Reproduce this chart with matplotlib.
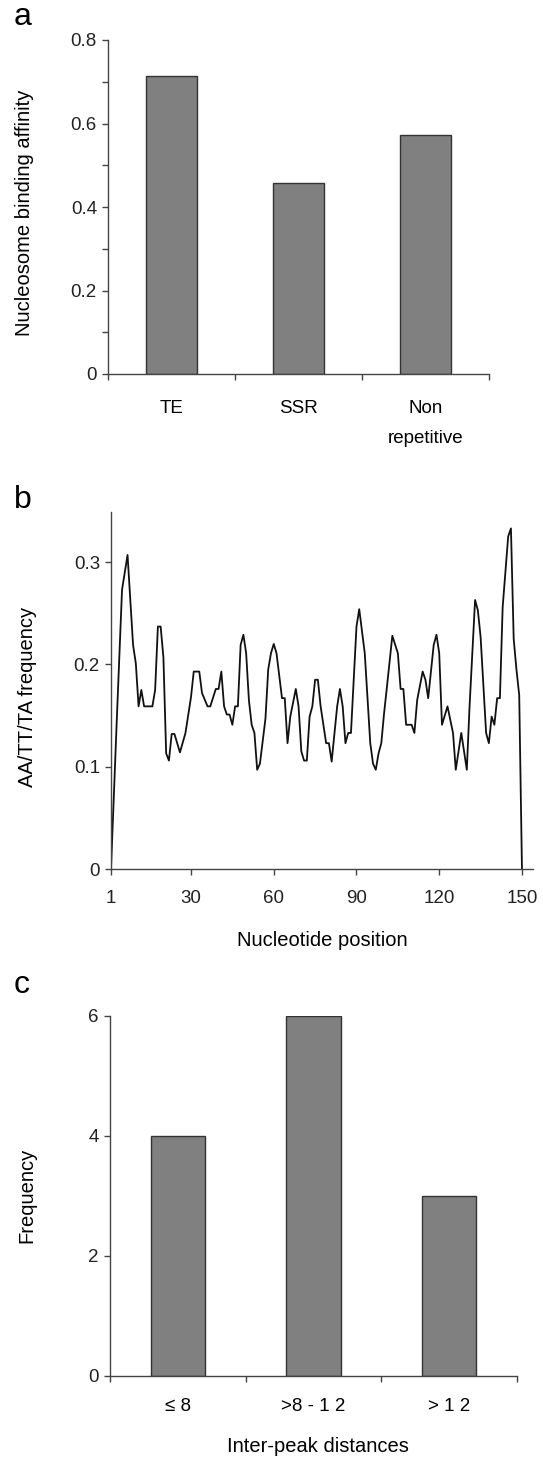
import numpy as np
import matplotlib
matplotlib.use('Agg')
from matplotlib import pyplot as plt

plt.rcParams['font.family'] = ['Liberation Sans', 'DejaVu Sans']
plt.rcParams['font.size'] = 13.5

# Panel a data
repeat_types = ['TE', 'SSR', 'Non\nrepetitive']
binding_affinity = [0.714, 0.457, 0.573]

# Panel b data (vertices)
position = [1, 3, 5, 7, 9, 10, 11, 12, 13, 16, 17, 18, 19, 20, 21, 22, 23, 24, 26, 28,
            30, 31, 33, 34, 36, 37, 39, 40, 41, 42, 43, 44, 45, 46, 47, 48, 49, 50, 51, 52,
            53, 54, 55, 57, 58, 59, 60, 61, 63, 64, 65, 66, 68, 69, 70, 71, 72, 73, 74, 75,
            76, 77, 78, 79, 80, 81, 83, 84, 85, 86, 87, 88, 90, 91, 93, 95, 96, 97, 98, 99,
            100, 101, 103, 105, 106, 107, 108, 110, 111, 112, 114, 115, 116, 118, 119, 120, 121, 123, 125, 126,
            128, 130, 131, 133, 134, 135, 137, 138, 139, 140, 141, 142, 143, 145, 146, 147, 148, 149, 150]
aa_tt_ta = [0.0, 0.139, 0.273, 0.307, 0.219, 0.201, 0.159, 0.175, 0.159, 0.159, 0.175, 0.237, 0.237, 0.207, 0.113, 0.106, 0.132, 0.132, 0.114, 0.133,
            0.168, 0.193, 0.193, 0.172, 0.159, 0.159, 0.176, 0.176, 0.193, 0.159, 0.151, 0.151, 0.141, 0.159, 0.159, 0.219, 0.229, 0.211, 0.165, 0.141,
            0.133, 0.097, 0.103, 0.147, 0.195, 0.211, 0.220, 0.211, 0.167, 0.167, 0.123, 0.149, 0.176, 0.159, 0.115, 0.106, 0.106, 0.149, 0.159, 0.185,
            0.185, 0.159, 0.141, 0.123, 0.123, 0.105, 0.159, 0.176, 0.159, 0.123, 0.133, 0.133, 0.237, 0.254, 0.211, 0.123, 0.103, 0.097, 0.113, 0.123,
            0.152, 0.177, 0.228, 0.211, 0.176, 0.176, 0.141, 0.141, 0.133, 0.165, 0.193, 0.185, 0.167, 0.219, 0.229, 0.211, 0.141, 0.159, 0.133, 0.097,
            0.133, 0.097, 0.159, 0.263, 0.253, 0.227, 0.133, 0.123, 0.149, 0.141, 0.167, 0.167, 0.256, 0.325, 0.333, 0.225, 0.195, 0.170, 0.0]

# Panel c data
distance_bins = ['\u2264 8', '>8 - 1 2', '> 1 2']
peak_counts = [4, 6, 3]

W, H = 543, 1458
fig = plt.figure(figsize=(W / 100, H / 100), dpi=100)
label_size = 14.5

def px_axes(left, right, top, bottom):
    return fig.add_axes([left / W, 1 - bottom / H, (right - left) / W, (bottom - top) / H])

def style(ax):
    for s in ['top', 'right']:
        ax.spines[s].set_visible(False)
    for s in ['left', 'bottom']:
        ax.spines[s].set_color('#444444')
        ax.spines[s].set_linewidth(1.0)
    ax.tick_params(axis='both', direction='out', length=4, width=1, color='#444444', colors='#222222')
    ax.tick_params(axis='y', pad=4)

bar_color = '#808080'
edge_color = '#333333'

# ---- panel a
ax1 = px_axes(108, 489, 40, 374)
style(ax1)
xa = np.arange(len(repeat_types)) + 0.5
ax1.bar(xa, binding_affinity, width=0.4, color=bar_color, edgecolor=edge_color, linewidth=1)
ax1.set_xlim(0, 3)
ax1.set_ylim(0, 0.8)
ax1.set_xticks([0, 1, 2, 3])
ax1.set_xticklabels([])
ax1.set_xticks(xa, minor=True)
ax1.set_xticklabels(repeat_types, minor=True, linespacing=2.0, va='top')
ax1.tick_params(axis='x', which='minor', length=0, pad=19)
yt = np.round(np.arange(0, 0.81, 0.1), 1)
ax1.set_yticks(yt)
ax1.set_yticklabels(['0' if v == 0 else (f'{v:.1f}' if round(v * 10) % 2 == 0 else '') for v in yt])
fig.text(25 / W, 1 - 213 / H, 'Nucleosome binding affinity', rotation=90, ha='center', va='center', fontsize=label_size)
fig.text(14 / W, 1 - 17 / H, 'a', fontsize=23, ha='left', va='center')

# ---- panel b
ax2 = px_axes(111, 533, 512, 869)
style(ax2)
ax2.plot(position, aa_tt_ta, color='#111111', linewidth=1.3)
ax2.set_xlim(1, 154)
ax2.set_ylim(0, 0.349)
ax2.set_xticks([1, 30, 60, 90, 120, 150])
ax2.set_yticks([0, 0.1, 0.2, 0.3])
ax2.set_yticklabels(['0', '0.1', '0.2', '0.3'])
ax2.tick_params(axis='x', length=4, pad=11)
fig.text(28 / W, 1 - 697 / H, 'AA/TT/TA frequency', rotation=90, ha='center', va='center', fontsize=label_size)
fig.text(322 / W, 1 - 940 / H, 'Nucleotide position', ha='center', va='center', fontsize=label_size)
fig.text(14 / W, 1 - 500 / H, 'b', fontsize=23, ha='left', va='center')

# ---- panel c
ax3 = px_axes(110, 517, 1016, 1376)
style(ax3)
xc = np.arange(len(distance_bins)) + 0.5
ax3.bar(xc, peak_counts, width=0.4, color=bar_color, edgecolor=edge_color, linewidth=1)
ax3.set_xlim(0, 3)
ax3.set_ylim(0, 6)
ax3.set_xticks([0, 1, 2, 3])
ax3.set_xticklabels([])
ax3.set_xticks(xc, minor=True)
ax3.set_xticklabels(distance_bins, minor=True)
ax3.tick_params(axis='x', which='minor', length=0, pad=16)
ax3.set_yticks([0, 2, 4, 6])
fig.text(27 / W, 1 - 1195 / H, 'Frequency', rotation=90, ha='center', va='center', fontsize=label_size)
fig.text(318 / W, 1 - 1447 / H, 'Inter-peak distances', ha='center', va='center', fontsize=label_size)
fig.text(14 / W, 1 - 985 / H, 'c', fontsize=23, ha='left', va='center')

fig.savefig('out.png', dpi=100)
